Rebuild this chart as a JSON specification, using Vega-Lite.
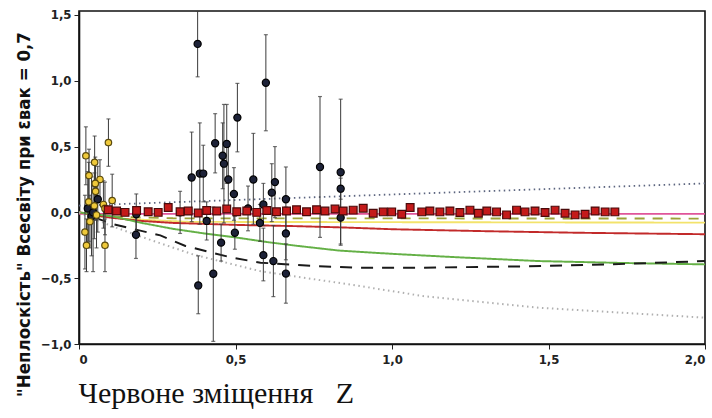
{
  "$schema": "https://vega.github.io/schema/vega-lite/v6.json",
  "width": 626,
  "height": 333,
  "autosize": {"type": "none"},
  "padding": {"left": 79, "top": 11, "right": 7, "bottom": 74},
  "background": "white",
  "config": {
    "view": {"stroke": "#111", "strokeWidth": 1.6},
    "axis": {
      "grid": false,
      "domainColor": "#111",
      "domainWidth": 1.6,
      "tickColor": "#222",
      "tickSize": 5,
      "labelFont": "DejaVu Sans Condensed, Liberation Sans Narrow, sans-serif",
      "labelFontWeight": "bold",
      "labelFontSize": 13,
      "labelColor": "#222"
    }
  },
  "datasets": {
    "lines": [
      {"s": "up", "x": 0.0, "y": 0.052}, {"s": "up", "x": 0.5, "y": 0.094}, {"s": "up", "x": 1.0, "y": 0.136}, {"s": "up", "x": 1.5, "y": 0.178}, {"s": "up", "x": 2.0, "y": 0.22},
      {"s": "mag", "x": 0.0, "y": -0.012}, {"s": "mag", "x": 2.0, "y": -0.012},
      {"s": "olive", "x": 0.05, "y": -0.03}, {"s": "olive", "x": 0.3, "y": -0.045}, {"s": "olive", "x": 2.0, "y": -0.047},
      {"s": "yel", "x": 0.0, "y": 0.0}, {"s": "yel", "x": 0.15, "y": -0.05}, {"s": "yel", "x": 0.35, "y": -0.072}, {"s": "yel", "x": 2.0, "y": -0.078},
      {"s": "red", "x": 0.0, "y": 0.0}, {"s": "red", "x": 0.1, "y": -0.04}, {"s": "red", "x": 0.2, "y": -0.065}, {"s": "red", "x": 0.3, "y": -0.08}, {"s": "red", "x": 0.5, "y": -0.095}, {"s": "red", "x": 0.7, "y": -0.105}, {"s": "red", "x": 0.85, "y": -0.115}, {"s": "red", "x": 1.0, "y": -0.128}, {"s": "red", "x": 1.3, "y": -0.143}, {"s": "red", "x": 1.6, "y": -0.155}, {"s": "red", "x": 2.0, "y": -0.166},
      {"s": "green", "x": 0.0, "y": 0.0}, {"s": "green", "x": 0.106, "y": -0.03}, {"s": "green", "x": 0.2, "y": -0.08}, {"s": "green", "x": 0.3, "y": -0.125}, {"s": "green", "x": 0.4, "y": -0.16}, {"s": "green", "x": 0.5, "y": -0.19}, {"s": "green", "x": 0.6, "y": -0.225}, {"s": "green", "x": 0.7, "y": -0.255}, {"s": "green", "x": 0.83, "y": -0.29}, {"s": "green", "x": 1.0, "y": -0.315}, {"s": "green", "x": 1.2, "y": -0.34}, {"s": "green", "x": 1.47, "y": -0.37}, {"s": "green", "x": 1.75, "y": -0.385}, {"s": "green", "x": 2.0, "y": -0.395},
      {"s": "blk", "x": 0.05, "y": -0.04}, {"s": "blk", "x": 0.11, "y": -0.09}, {"s": "blk", "x": 0.26, "y": -0.175}, {"s": "blk", "x": 0.34, "y": -0.255}, {"s": "blk", "x": 0.49, "y": -0.345}, {"s": "blk", "x": 0.58, "y": -0.382}, {"s": "blk", "x": 0.75, "y": -0.407}, {"s": "blk", "x": 0.88, "y": -0.42}, {"s": "blk", "x": 1.1, "y": -0.42}, {"s": "blk", "x": 1.43, "y": -0.41}, {"s": "blk", "x": 1.7, "y": -0.395}, {"s": "blk", "x": 2.0, "y": -0.37},
      {"s": "low", "x": 0.0, "y": 0.0}, {"s": "low", "x": 0.1, "y": -0.1}, {"s": "low", "x": 0.205, "y": -0.19}, {"s": "low", "x": 0.365, "y": -0.32}, {"s": "low", "x": 0.578, "y": -0.446}, {"s": "low", "x": 0.898, "y": -0.56}, {"s": "low", "x": 1.1, "y": -0.636}, {"s": "low", "x": 1.473, "y": -0.725}, {"s": "low", "x": 2.0, "y": -0.8}
    ],
    "pts": [
      {"s": "dark", "x": 0.028, "y": 0.03, "lo": -0.25, "hi": 0.31},
      {"s": "dark", "x": 0.04, "y": -0.03, "lo": -0.33, "hi": 0.27},
      {"s": "dark", "x": 0.06, "y": 0.1, "lo": -0.15, "hi": 0.35},
      {"s": "dark", "x": 0.045, "y": 0.0, "lo": -0.45, "hi": 0.2},
      {"s": "yel", "x": 0.022, "y": 0.43, "lo": 0.21, "hi": 0.65},
      {"s": "yel", "x": 0.094, "y": 0.53, "lo": 0.35, "hi": 0.71},
      {"s": "yel", "x": 0.05, "y": 0.38, "lo": 0.2, "hi": 0.58},
      {"s": "yel", "x": 0.032, "y": 0.28, "lo": 0.08, "hi": 0.48},
      {"s": "yel", "x": 0.067, "y": 0.25, "lo": 0.1, "hi": 0.4},
      {"s": "yel", "x": 0.052, "y": 0.22, "lo": 0.02, "hi": 0.42},
      {"s": "yel", "x": 0.053, "y": 0.16, "lo": -0.06, "hi": 0.38},
      {"s": "yel", "x": 0.106, "y": 0.09, "lo": -0.11, "hi": 0.29},
      {"s": "yel", "x": 0.031, "y": 0.08, "lo": -0.22, "hi": 0.38},
      {"s": "yel", "x": 0.049, "y": 0.05, "lo": -0.2, "hi": 0.3},
      {"s": "yel", "x": 0.078, "y": 0.06, "lo": -0.12, "hi": 0.24},
      {"s": "yel", "x": 0.083, "y": 0.03, "lo": -0.17, "hi": 0.23},
      {"s": "yel", "x": 0.056, "y": -0.02, "lo": -0.27, "hi": 0.23},
      {"s": "yel", "x": 0.035, "y": -0.07, "lo": -0.27, "hi": 0.13},
      {"s": "yel", "x": 0.019, "y": -0.15, "lo": -0.43, "hi": 0.13},
      {"s": "yel", "x": 0.024, "y": -0.25, "lo": -0.45, "hi": -0.05},
      {"s": "yel", "x": 0.083, "y": -0.25, "lo": -0.45, "hi": -0.05},
      {"s": "dark", "x": 0.183, "y": -0.014, "lo": -0.16, "hi": 0.14},
      {"s": "dark", "x": 0.182, "y": -0.17, "lo": -0.35, "hi": 0.01},
      {"s": "dark", "x": 0.323, "y": 0.0, "lo": -0.16, "hi": 0.16},
      {"s": "dark", "x": 0.36, "y": 0.265, "lo": -0.07, "hi": 0.61},
      {"s": "dark", "x": 0.379, "y": 1.28, "lo": 1.03, "hi": 1.53},
      {"s": "dark", "x": 0.381, "y": -0.555, "lo": -0.77, "hi": -0.33},
      {"s": "dark", "x": 0.386, "y": 0.295, "lo": -0.09, "hi": 0.68},
      {"s": "dark", "x": 0.397, "y": 0.295, "lo": 0.08, "hi": 0.51},
      {"s": "dark", "x": 0.408, "y": -0.065, "lo": -0.21, "hi": 0.08},
      {"s": "dark", "x": 0.429, "y": -0.466, "lo": -0.98, "hi": 0.04},
      {"s": "dark", "x": 0.435, "y": 0.525, "lo": 0.3, "hi": 0.75},
      {"s": "dark", "x": 0.454, "y": -0.23, "lo": -0.37, "hi": -0.09},
      {"s": "dark", "x": 0.459, "y": 0.43, "lo": 0.18, "hi": 0.68},
      {"s": "dark", "x": 0.463, "y": 0.37, "lo": -0.08, "hi": 0.82},
      {"s": "dark", "x": 0.472, "y": 0.52, "lo": 0.22, "hi": 0.82},
      {"s": "dark", "x": 0.477, "y": 0.25, "lo": 0.0, "hi": 0.5},
      {"s": "dark", "x": 0.495, "y": 0.14, "lo": -0.06, "hi": 0.34},
      {"s": "dark", "x": 0.498, "y": -0.155, "lo": -0.28, "hi": -0.03},
      {"s": "dark", "x": 0.506, "y": 0.72, "lo": 0.46, "hi": 0.98},
      {"s": "dark", "x": 0.54, "y": 0.03, "lo": -0.14, "hi": 0.2},
      {"s": "dark", "x": 0.557, "y": 0.25, "lo": -0.09, "hi": 0.6},
      {"s": "dark", "x": 0.578, "y": -0.08, "lo": -0.22, "hi": 0.06},
      {"s": "dark", "x": 0.589, "y": -0.325, "lo": -0.52, "hi": -0.12},
      {"s": "dark", "x": 0.589, "y": 0.06, "lo": -0.1, "hi": 0.22},
      {"s": "dark", "x": 0.597, "y": 0.985, "lo": 0.62, "hi": 1.35},
      {"s": "dark", "x": 0.616, "y": 0.15, "lo": -0.07, "hi": 0.37},
      {"s": "dark", "x": 0.621, "y": -0.37, "lo": -0.64, "hi": -0.1},
      {"s": "dark", "x": 0.626, "y": 0.23, "lo": -0.04, "hi": 0.5},
      {"s": "dark", "x": 0.661, "y": 0.1, "lo": -0.14, "hi": 0.345},
      {"s": "dark", "x": 0.661, "y": -0.16, "lo": -0.36, "hi": 0.04},
      {"s": "dark", "x": 0.661, "y": -0.465, "lo": -0.69, "hi": -0.24},
      {"s": "dark", "x": 0.77, "y": 0.345, "lo": -0.19, "hi": 0.88},
      {"s": "dark", "x": 0.836, "y": 0.305, "lo": -0.25, "hi": 0.86},
      {"s": "dark", "x": 0.836, "y": -0.04, "lo": -0.24, "hi": 0.16},
      {"s": "dark", "x": 0.836, "y": 0.18, "lo": 0.1, "hi": 0.26},
      {"s": "red", "x": 0.093, "y": 0.02}, {"s": "red", "x": 0.12, "y": 0.01}, {"s": "red", "x": 0.147, "y": 0.0}, {"s": "red", "x": 0.184, "y": 0.015},
      {"s": "red", "x": 0.221, "y": 0.005}, {"s": "red", "x": 0.253, "y": 0.0}, {"s": "red", "x": 0.285, "y": 0.037}, {"s": "red", "x": 0.323, "y": 0.005},
      {"s": "red", "x": 0.349, "y": 0.01}, {"s": "red", "x": 0.381, "y": -0.005}, {"s": "red", "x": 0.408, "y": 0.015}, {"s": "red", "x": 0.44, "y": 0.01},
      {"s": "red", "x": 0.472, "y": 0.025}, {"s": "red", "x": 0.504, "y": 0.005}, {"s": "red", "x": 0.536, "y": 0.01}, {"s": "red", "x": 0.568, "y": 0.0},
      {"s": "red", "x": 0.6, "y": 0.015}, {"s": "red", "x": 0.631, "y": 0.005}, {"s": "red", "x": 0.663, "y": 0.01}, {"s": "red", "x": 0.695, "y": 0.02},
      {"s": "red", "x": 0.727, "y": 0.005}, {"s": "red", "x": 0.759, "y": 0.02}, {"s": "red", "x": 0.786, "y": 0.01}, {"s": "red", "x": 0.818, "y": 0.025},
      {"s": "red", "x": 0.844, "y": 0.011}, {"s": "red", "x": 0.876, "y": 0.017}, {"s": "red", "x": 0.908, "y": 0.032}, {"s": "red", "x": 0.94, "y": -0.006},
      {"s": "red", "x": 0.972, "y": 0.004}, {"s": "red", "x": 0.999, "y": 0.004}, {"s": "red", "x": 1.031, "y": -0.014}, {"s": "red", "x": 1.058, "y": 0.037},
      {"s": "red", "x": 1.095, "y": 0.004}, {"s": "red", "x": 1.121, "y": 0.011}, {"s": "red", "x": 1.153, "y": 0.004}, {"s": "red", "x": 1.185, "y": 0.011},
      {"s": "red", "x": 1.217, "y": -0.001}, {"s": "red", "x": 1.249, "y": 0.017}, {"s": "red", "x": 1.276, "y": -0.006}, {"s": "red", "x": 1.303, "y": 0.011},
      {"s": "red", "x": 1.334, "y": 0.004}, {"s": "red", "x": 1.366, "y": -0.019}, {"s": "red", "x": 1.398, "y": 0.017}, {"s": "red", "x": 1.425, "y": 0.004},
      {"s": "red", "x": 1.457, "y": 0.011}, {"s": "red", "x": 1.489, "y": -0.001}, {"s": "red", "x": 1.521, "y": 0.017}, {"s": "red", "x": 1.553, "y": -0.006},
      {"s": "red", "x": 1.585, "y": -0.019}, {"s": "red", "x": 1.617, "y": -0.014}, {"s": "red", "x": 1.649, "y": 0.011}, {"s": "red", "x": 1.681, "y": 0.004},
      {"s": "red", "x": 1.712, "y": 0.004}
    ]
  },
  "layer": [
    {
      "data": {"name": "lines"},
      "mark": {"type": "line", "clip": true},
      "encoding": {
        "x": {
          "field": "x", "type": "quantitative",
          "scale": {"domain": [0, 2], "nice": false, "zero": false},
          "axis": {
            "values": [0, 0.5, 1, 1.5, 2],
            "labelExpr": "datum.value == 0 ? '0' : replace(format(datum.value, '.1f'), '.', ',')",
            "labelPadding": 4,
            "title": "Червоне зміщення\u00a0\u00a0\u00a0Z",
            "titleFont": "Liberation Serif, Times New Roman, serif",
            "titleFontWeight": "normal",
            "titleFontSize": 30,
            "titleColor": "#111",
            "titleAlign": "left",
            "titleBaseline": "alphabetic",
            "titleX": -1,
            "titleY": 58
          }
        },
        "y": {
          "field": "y", "type": "quantitative",
          "scale": {"domain": [-1, 1.53], "nice": false, "zero": false},
          "axis": {
            "values": [-1, -0.5, 0, 0.5, 1, 1.5],
            "labelExpr": "replace(format(datum.value, '.1f'), '.', ',')",
            "labelPadding": 3,
            "title": "\"Неплоскість\" Всесвіту при εвак = 0,7",
            "titleFont": "DejaVu Sans Condensed, Liberation Sans Narrow, sans-serif",
            "titleFontWeight": "bold",
            "titleFontSize": 18.5,
            "titleColor": "#111",
            "titleAngle": 270,
            "titleAlign": "center",
            "titleBaseline": "middle",
            "titleX": -56,
            "titleY": 203
          }
        },
        "detail": {"field": "s"},
        "color": {
          "field": "s", "type": "nominal", "legend": null,
          "scale": {
            "domain": ["up", "mag", "olive", "yel", "red", "green", "blk", "low"],
            "range": ["#5d6680", "#e0559a", "#9ea23a", "#f3e36b", "#c22a2a", "#64b046", "#1a1a1a", "#b0b0b0"]
          }
        },
        "strokeDash": {
          "field": "s", "type": "nominal", "legend": null,
          "scale": {
            "domain": ["up", "mag", "olive", "yel", "red", "green", "blk", "low"],
            "range": [[1.5, 3.5], [1, 0], [10, 8], [1, 0], [1, 0], [1, 0], [12, 9], [1.5, 3.5]]
          }
        },
        "size": {
          "field": "s", "type": "nominal", "legend": null,
          "scale": {
            "domain": ["up", "mag", "olive", "yel", "red", "green", "blk", "low"],
            "range": [1.8, 2, 2, 4, 1.5, 1.5, 2, 1.8]
          }
        }
      }
    },
    {
      "data": {"name": "pts"},
      "transform": [{"filter": "datum.s != 'red'"}],
      "mark": {"type": "rule", "color": "#3a3a3a", "strokeWidth": 1, "clip": true},
      "encoding": {
        "x": {"field": "x", "type": "quantitative"},
        "y": {"field": "lo", "type": "quantitative"},
        "y2": {"field": "hi"}
      }
    },
    {
      "data": {"name": "pts"},
      "transform": [{"filter": "datum.s != 'red'"}],
      "mark": {"type": "tick", "orient": "horizontal", "size": 4, "thickness": 1.2, "color": "#3a3a3a", "clip": true},
      "encoding": {
        "x": {"field": "x", "type": "quantitative"},
        "y": {"field": "lo", "type": "quantitative"}
      }
    },
    {
      "data": {"name": "pts"},
      "transform": [{"filter": "datum.s != 'red'"}],
      "mark": {"type": "tick", "orient": "horizontal", "size": 4, "thickness": 1.2, "color": "#3a3a3a", "clip": true},
      "encoding": {
        "x": {"field": "x", "type": "quantitative"},
        "y": {"field": "hi", "type": "quantitative"}
      }
    },
    {
      "data": {"name": "pts"},
      "mark": {"type": "point", "filled": true, "opacity": 1, "strokeWidth": 1.2, "clip": true},
      "encoding": {
        "x": {"field": "x", "type": "quantitative"},
        "y": {"field": "y", "type": "quantitative"},
        "shape": {"field": "s", "type": "nominal", "legend": null,
          "scale": {"domain": ["yel", "dark", "red"], "range": ["circle", "circle", "square"]}},
        "fill": {"field": "s", "type": "nominal", "legend": null,
          "scale": {"domain": ["yel", "dark", "red"], "range": ["#efc93a", "#1d2238", "#c41a1a"]}},
        "stroke": {"field": "s", "type": "nominal", "legend": null,
          "scale": {"domain": ["yel", "dark", "red"], "range": ["#5b4b0e", "#000000", "#4a0a0a"]}},
        "size": {"field": "s", "type": "nominal", "legend": null,
          "scale": {"domain": ["yel", "dark", "red"], "range": [42, 60, 58]}}
      }
    }
  ],
  "resolve": {"scale": {"size": "independent"}}
}
